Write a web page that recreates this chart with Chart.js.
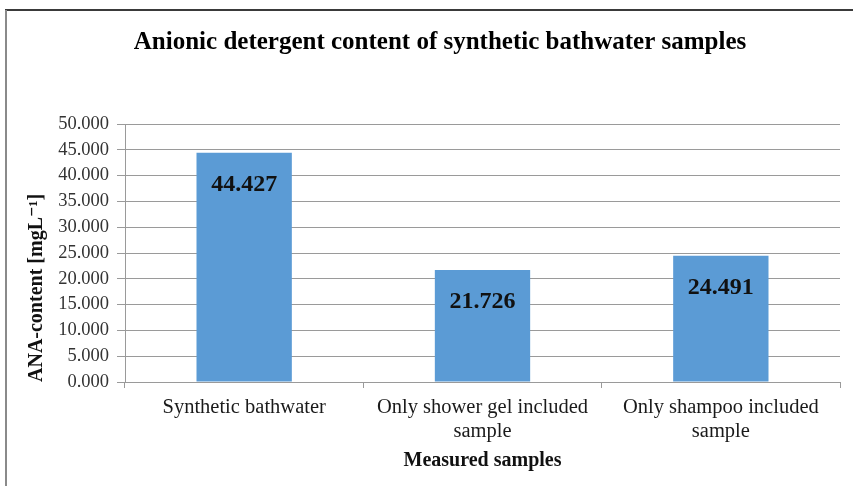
<!DOCTYPE html>
<html>
<head>
<meta charset="utf-8">
<script src="https://cdn.jsdelivr.net/npm/chart.js@4/dist/chart.umd.min.js"></script>
<style>
  html, body { margin: 0; padding: 0; background: #fff; }
  #wrap { position: relative; width: 853px; height: 486px; }
</style>
</head>
<body>
<div id="wrap"><canvas id="c" width="853" height="486"></canvas></div>
<script>
// Samples and measured anionic detergent (ANA) content, mg/L
const categories = [
  'Synthetic bathwater',
  ['Only shower gel included', 'sample'],
  ['Only shampoo included', 'sample']
];
const anaContent = [44.427, 21.726, 24.491];
const yTicks = { min: 0, max: 50, step: 5 };

const SERIF = '"Liberation Serif", "Times New Roman", "DejaVu Serif", serif';

// Frame lines around the chart (top and left edges)
const framePlugin = {
  id: 'frame',
  beforeDraw(chart) {
    const ctx = chart.ctx;
    ctx.save();
    ctx.fillStyle = '#ffffff';
    ctx.fillRect(0, 0, chart.width, chart.height);
    ctx.strokeStyle = '#3a3a3a';
    ctx.lineWidth = 2;
    ctx.beginPath();
    ctx.moveTo(5, 10);
    ctx.lineTo(chart.width, 10);
    ctx.stroke();
    ctx.strokeStyle = '#8a8a8a';
    ctx.beginPath();
    ctx.moveTo(6, 10);
    ctx.lineTo(6, chart.height);
    ctx.stroke();
    ctx.restore();
  }
};

// Value labels inside the top of each bar
const valueLabels = {
  id: 'valueLabels',
  afterDatasetsDraw(chart) {
    const ctx = chart.ctx;
    const meta = chart.getDatasetMeta(0);
    const values = chart.data.datasets[0].data;
    ctx.save();
    ctx.font = 'bold 24px ' + SERIF;
    ctx.fillStyle = '#111111';
    ctx.textAlign = 'center';
    ctx.textBaseline = 'middle';
    meta.data.forEach((bar, i) => {
      ctx.fillText(values[i].toFixed(3), bar.x, bar.y + 32);
    });
    ctx.restore();
  }
};

new Chart(document.getElementById('c'), {
  type: 'bar',
  data: {
    labels: categories,
    datasets: [{
      data: anaContent,
      backgroundColor: '#5B9BD5',
      borderWidth: 0,
      categoryPercentage: 1.0,
      barPercentage: 0.4
    }]
  },
  options: {
    responsive: false,
    animation: false,
    devicePixelRatio: 1,
    layout: { padding: { left: 40, right: 13, top: 10, bottom: 10 } },
    plugins: {
      legend: { display: false },
      tooltip: { enabled: false },
      title: {
        display: true,
        text: 'Anionic detergent content of synthetic bathwater samples',
        color: '#000000',
        font: { family: SERIF, size: 25, weight: 'bold', lineHeight: 1.2 },
        padding: { top: 18, bottom: 66 }
      }
    },
    scales: {
      x: {
        grid: {
          display: true,
          drawOnChartArea: false,
          drawTicks: true,
          tickLength: 6,
          color: '#9a9a9a',
          offset: true
        },
        border: { display: true, color: '#9a9a9a' },
        ticks: {
          color: '#1a1a1a',
          padding: 8,
          maxRotation: 0,
          autoSkip: false,
          font: { family: SERIF, size: 20.5, lineHeight: 1.17 }
        },
        title: {
          display: true,
          text: 'Measured samples',
          color: '#111111',
          font: { family: SERIF, size: 20, weight: 'bold', lineHeight: 1.2 },
          padding: { top: 4, bottom: 3 }
        },
        afterFit(scale) { scale.height = 94; }
      },
      y: {
        min: yTicks.min,
        max: yTicks.max,
        grid: {
          color: '#9a9a9a',
          drawTicks: true,
          tickLength: 8
        },
        border: { display: true, color: '#9a9a9a' },
        ticks: {
          stepSize: yTicks.step,
          color: '#333333',
          padding: 8,
          font: { family: SERIF, size: 18.5 },
          callback: (v) => Number(v).toFixed(3)
        },
        title: {
          display: true,
          text: 'ANA-content [mgL\u207B\u00B9]',
          align: 'start',
          color: '#111111',
          font: { family: SERIF, size: 20, weight: 'bold', lineHeight: 1.2 },
          padding: { top: -15, bottom: 0 }
        },
        afterFit(scale) { scale.width = 85; }
      }
    }
  },
  plugins: [framePlugin, valueLabels]
});
</script>
</body>
</html>
